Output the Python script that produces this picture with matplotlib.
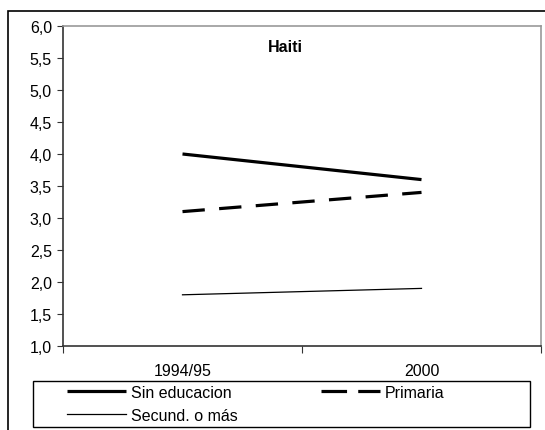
import matplotlib.pyplot as plt
from matplotlib.lines import Line2D
from matplotlib.patches import Rectangle
from matplotlib.ticker import FuncFormatter

plt.rcParams['font.family'] = ['Liberation Sans', 'DejaVu Sans']

years = ['1994/95', '2000']
sin_educacion = [4.0, 3.6]
primaria = [3.1, 3.4]
secundaria = [1.8, 1.9]

W, H = 545, 431
FS = 11.5

fig = plt.figure(figsize=(W / 100, H / 100), dpi=100)

# outer chart border (runs off the right/bottom edges)
fig.patches.append(Rectangle((8 / W, -0.05), 1.2, 1 - 12 / H + 0.05,
                             transform=fig.transFigure, fill=False,
                             edgecolor='black', linewidth=1.2))

ax = fig.add_axes([63 / W, 1 - 347 / H, (541 - 63) / W, (347 - 27) / H])

x = [0.5, 1.5]
l1, = ax.plot(x, sin_educacion, color='black', lw=2.3, label='Sin educacion',
              solid_capstyle='butt')
l2, = ax.plot(x, primaria, color='black', lw=2.3, dashes=(7, 4.5), label='Primaria',
              dash_capstyle='butt')
l3, = ax.plot(x, secundaria, color='black', lw=0.9, label='Secund. o más')

ax.set_xlim(0, 2)
ax.set_ylim(1.0, 6.0)
ax.set_yticks([1.0 + 0.5 * i for i in range(11)])
ax.yaxis.set_major_formatter(FuncFormatter(lambda v, p: f'{v:.1f}'.replace('.', ',')))
ax.set_xticks([0, 1, 2])
ax.set_xticklabels([])
ax.set_xticks(x, minor=True)
ax.set_xticklabels(years, minor=True)
ax.tick_params(axis='x', which='minor', length=0, pad=12.5, labelsize=FS)
ax.tick_params(axis='x', which='major', length=5, direction='out', color='#333333')
ax.tick_params(axis='y', length=4, direction='out', labelsize=FS, color='#333333', pad=4)

for side in ['top', 'right']:
    ax.spines[side].set_color('#999999')
    ax.spines[side].set_linewidth(1.2)
for side in ['left', 'bottom']:
    ax.spines[side].set_color('#333333')
    ax.spines[side].set_linewidth(1.2)

ax.text(0.465, 0.936, 'Haiti', transform=ax.transAxes, ha='center', va='center',
        fontsize=FS, fontweight='bold')

# legend box
fig.patches.append(Rectangle((33 / W, 1 - 428 / H), (530 - 33) / W, (428 - 382) / H,
                             transform=fig.transFigure, fill=False,
                             edgecolor='black', linewidth=1.0))

# the legend shows two long dashes for Primaria
prim_key = Line2D([], [], color='black', lw=2.3, dashes=(8, 3.5), dash_capstyle='butt')

# order handles so rows read: Sin educacion, Primaria / Secund. o más
leg = fig.legend([l1, l3, prim_key], ['Sin educacion', 'Secund. o más', 'Primaria'],
                 loc='upper left', bbox_to_anchor=(67 / W, 1 - 386 / H),
                 ncol=2, fontsize=FS, frameon=False, handlelength=3.7,
                 handletextpad=0.3, columnspacing=5.2, borderpad=0,
                 labelspacing=0.5, borderaxespad=0)

fig.savefig('out.png', dpi=100)
